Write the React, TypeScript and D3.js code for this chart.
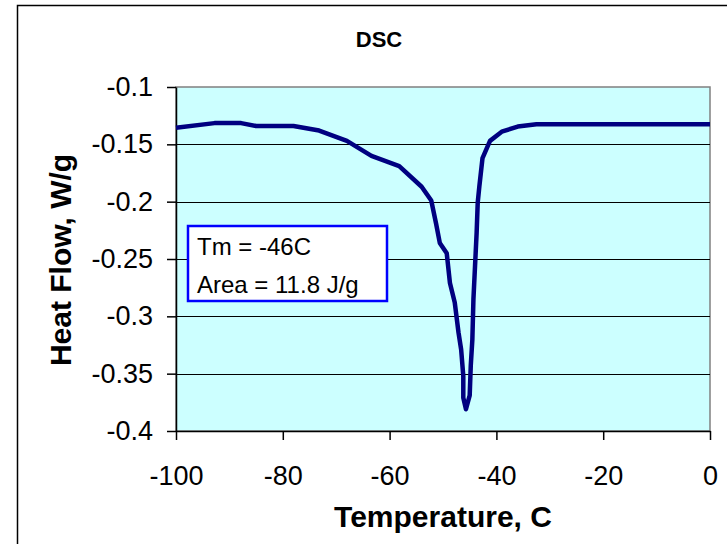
import React, { useRef, useEffect } from "react";
import * as d3 from "d3";

// values
const temps = [-100, -92.8, -87.8, -85, -78, -73.2, -68, -63.4, -58.2, -54, -52.2, -51.3, -50.6, -49.3, -48.7, -47.8, -47.1, -46.6, -46.2, -46.2, -45.7, -45.0, -44.8, -44.5, -44.3, -44.0, -43.7, -43.5, -43.2, -42.6, -41.2, -39.0, -36.0, -32.5, 0];
const heatFlow = [-0.1355, -0.1315, -0.1315, -0.134, -0.134, -0.138, -0.147, -0.16, -0.169, -0.187, -0.199, -0.219, -0.236, -0.245, -0.271, -0.288, -0.314, -0.329, -0.352, -0.371, -0.381, -0.369, -0.343, -0.32, -0.285, -0.256, -0.227, -0.201, -0.187, -0.162, -0.147, -0.139, -0.1345, -0.1325, -0.1325];
const xTicks = [-100, -80, -60, -40, -20, 0];
const yTicks = [-0.1, -0.15, -0.2, -0.25, -0.3, -0.35, -0.4];
const noteLines = ["Tm = -46C", "Area = 11.8 J/g"];

const FONT = "'Liberation Sans', Arial, sans-serif";

const App = () => {
    const chartRef = useRef<HTMLDivElement>(null);

    useEffect(() => {
        const width = 727;
        const height = 544;
        const left = 176, right = 710, top = 87, bottom = 431;

        const x = d3.scaleLinear().domain([-100, 0]).range([left, right]);
        const y = d3.scaleLinear().domain([-0.4, -0.1]).range([bottom, top]);

        const data = temps.map((t, i) => ({ t, v: heatFlow[i] }));

        const svg = d3.create("svg")
            .attr("width", width)
            .attr("height", height)
            .attr("viewBox", [0, 0, width, height])
            .style("position", "absolute")
            .style("left", "0px")
            .style("top", "0px")
            .style("font-family", FONT);

        svg.append("rect")
            .attr("width", width).attr("height", height).attr("fill", "white");

        // outer chart frame
        svg.append("rect")
            .attr("x", 17.5).attr("y", 5.5)
            .attr("width", 800).attr("height", 700)
            .attr("fill", "white")
            .attr("stroke", "black")
            .attr("stroke-width", 1.5);

        // plot area
        svg.append("rect")
            .attr("x", left).attr("y", top)
            .attr("width", right - left).attr("height", bottom - top)
            .attr("fill", "#CCFFFF")
            .attr("stroke", "#808080")
            .attr("stroke-width", 1.5);

        svg.append("g")
            .selectAll("line")
            .data(yTicks.slice(1, -1))
            .join("line")
            .attr("x1", left).attr("x2", right)
            .attr("y1", d => Math.round(y(d)) + 0.5)
            .attr("y2", d => Math.round(y(d)) + 0.5)
            .attr("stroke", "#000")
            .attr("stroke-width", 1)
            .attr("shape-rendering", "crispEdges");

        const xAxis = svg.append("g")
            .attr("transform", `translate(0,${bottom})`)
            .call(d3.axisBottom(x).tickValues(xTicks).tickSize(9).tickSizeOuter(0).tickPadding(26).tickFormat(d => String(d)));
        xAxis.attr("font-family", FONT).attr("font-size", 27);
        xAxis.selectAll("text").attr("fill", "#000");
        xAxis.selectAll(".domain, line").attr("stroke", "#000").attr("stroke-width", 1.5);

        const yAxis = svg.append("g")
            .attr("transform", `translate(${left},0)`)
            .call(d3.axisLeft(y).tickValues(yTicks).tickSize(9).tickSizeOuter(0).tickPadding(14).tickFormat(d => String(d)));
        yAxis.attr("font-family", FONT).attr("font-size", 27);
        yAxis.selectAll("text").attr("fill", "#000");
        yAxis.selectAll(".domain, line").attr("stroke", "#000").attr("stroke-width", 1.5);

        const line = d3.line<{ t: number; v: number }>()
            .x(d => x(d.t))
            .y(d => y(d.v));

        svg.append("path")
            .datum(data)
            .attr("fill", "none")
            .attr("stroke", "#000080")
            .attr("stroke-width", 4.5)
            .attr("stroke-linejoin", "round")
            .attr("d", line);

        // annotation box
        const note = svg.append("g");
        note.append("rect")
            .attr("x", 188).attr("y", 226)
            .attr("width", 199).attr("height", 75)
            .attr("fill", "white")
            .attr("stroke", "#0000FF")
            .attr("stroke-width", 2.5);
        note.selectAll("text")
            .data(noteLines)
            .join("text")
            .attr("x", 197)
            .attr("y", (d, i) => 255 + i * 38)
            .attr("font-size", 24)
            .text(d => d);

        svg.append("text")
            .attr("x", 379).attr("y", 47)
            .attr("text-anchor", "middle")
            .attr("font-weight", "bold")
            .attr("font-size", 22)
            .text("DSC");

        svg.append("text")
            .attr("transform", "translate(71,260) rotate(-90)")
            .attr("text-anchor", "middle")
            .attr("font-weight", "bold")
            .attr("font-size", 30)
            .text("Heat Flow, W/g");

        svg.append("text")
            .attr("x", 443).attr("y", 527)
            .attr("text-anchor", "middle")
            .attr("font-weight", "bold")
            .attr("font-size", 30)
            .text("Temperature, C");

        chartRef.current!.innerHTML = "";
        chartRef.current!.appendChild(svg.node()!);
    }, []);

    return <div ref={chartRef} />;
};

export default App;
